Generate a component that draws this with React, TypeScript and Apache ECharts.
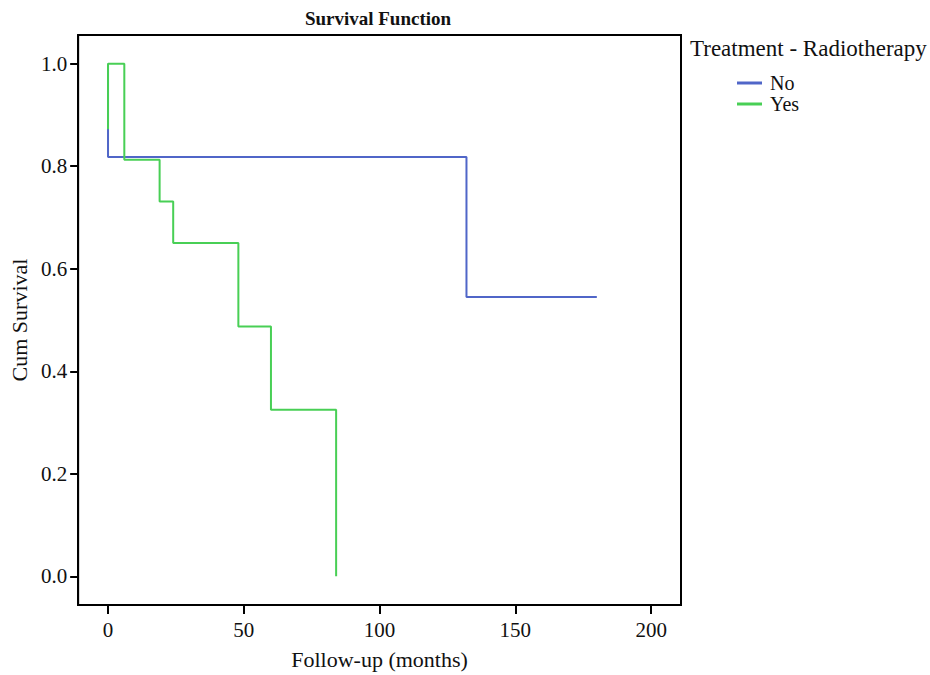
import React, { useEffect, useRef } from "react";
import * as echarts from "echarts";

// Kaplan-Meier step points (time in months, cumulative survival)
const noTimes = [0, 0, 132, 180];
const noSurv = [1.0, 0.818, 0.545, 0.545];
const yesTimes = [0, 0, 6, 19, 24, 48, 60, 84];
const yesSurv = [0.872, 1.0, 0.8125, 0.731, 0.65, 0.4875, 0.325, 0.0];

const xTicks = [0, 50, 100, 150, 200];
const yTicks = [0, 0.2, 0.4, 0.6, 0.8, 1.0];
const seriesNames = ["No", "Yes"];
const seriesColors = ["#5066c8", "#48cf55"];
const titleText = "Survival Function";
const legendTitle = "Treatment - Radiotherapy";
const xName = "Follow-up (months)";
const yName = "Cum Survival";

const FONT = "'Liberation Serif', 'Times New Roman', serif";

export default function App() {
  const ref = useRef<HTMLDivElement>(null);
  useEffect(() => {
    if (!ref.current) return;
    const chart = echarts.init(ref.current, null, { renderer: "svg" });
    const noData = noTimes.map((t, i) => [t, noSurv[i]]);
    const yesData = yesTimes.map((t, i) => [t, yesSurv[i]]);
    const legendBase = {
      orient: "vertical",
      left: 737,
      itemWidth: 25,
      itemHeight: 3,
      itemGap: 0,
      padding: 0,
      icon: "rect",
      textStyle: {
        fontFamily: FONT,
        fontSize: 20,
        color: "#111",
        padding: [0, 0, 0, 3],
      },
    };
    chart.setOption({
      animation: false,
      backgroundColor: "#ffffff",
      textStyle: { fontFamily: FONT },
      graphic: [
        {
          type: "text",
          x: 378,
          y: 18,
          style: {
            text: titleText,
            font: `bold 19px ${FONT}`,
            fill: "#111",
            align: "center",
            verticalAlign: "middle",
          },
        },
        {
          type: "text",
          x: 690,
          y: 48,
          style: {
            text: legendTitle,
            font: `23px ${FONT}`,
            fill: "#111",
            align: "left",
            verticalAlign: "middle",
          },
        },
      ],
      legend: [
        { ...legendBase, top: 73, data: [seriesNames[0]] },
        { ...legendBase, top: 94, data: [seriesNames[1]] },
      ],
      grid: {
        left: 77,
        top: 35,
        right: 249,
        bottom: 66,
        show: true,
        borderColor: "#000",
        borderWidth: 2,
        containLabel: false,
      },
      xAxis: {
        type: "value",
        min: -11,
        max: 211,
        name: xName,
        nameLocation: "middle",
        nameGap: 43,
        nameTextStyle: { fontFamily: FONT, fontSize: 22, color: "#111" },
        axisLine: { show: true, onZero: false, lineStyle: { color: "#000", width: 2 } },
        axisTick: {
          show: true,
          length: 9,
          lineStyle: { color: "#000", width: 2 },
          customValues: xTicks,
        },
        axisLabel: {
          fontFamily: FONT,
          fontSize: 21,
          color: "#111",
          margin: 14,
          customValues: xTicks,
        },
        splitLine: { show: false },
      },
      yAxis: {
        type: "value",
        min: -0.056,
        max: 1.056,
        name: yName,
        nameLocation: "middle",
        nameGap: 48,
        nameRotate: 90,
        nameTextStyle: { fontFamily: FONT, fontSize: 22, color: "#111" },
        axisLine: { show: true, onZero: false, lineStyle: { color: "#000", width: 2 } },
        axisTick: {
          show: true,
          length: 8,
          lineStyle: { color: "#000", width: 2 },
          customValues: yTicks,
        },
        axisLabel: {
          fontFamily: FONT,
          fontSize: 21,
          color: "#111",
          margin: 11,
          customValues: yTicks,
          formatter: (v: number) => v.toFixed(1),
        },
        splitLine: { show: false },
      },
      series: [
        {
          name: seriesNames[0],
          type: "line",
          step: "end",
          data: noData,
          symbol: "none",
          z: 2,
          lineStyle: { color: seriesColors[0], width: 2 },
          itemStyle: { color: seriesColors[0] },
        },
        {
          name: seriesNames[1],
          type: "line",
          step: "end",
          data: yesData,
          symbol: "none",
          z: 3,
          lineStyle: { color: seriesColors[1], width: 2 },
          itemStyle: { color: seriesColors[1] },
        },
      ],
    });
    return () => chart.dispose();
  }, []);
  return (
    <div
      ref={ref}
      style={{ position: "fixed", left: 0, top: 0, width: 930, height: 675, background: "#fff" }}
    />
  );
}
